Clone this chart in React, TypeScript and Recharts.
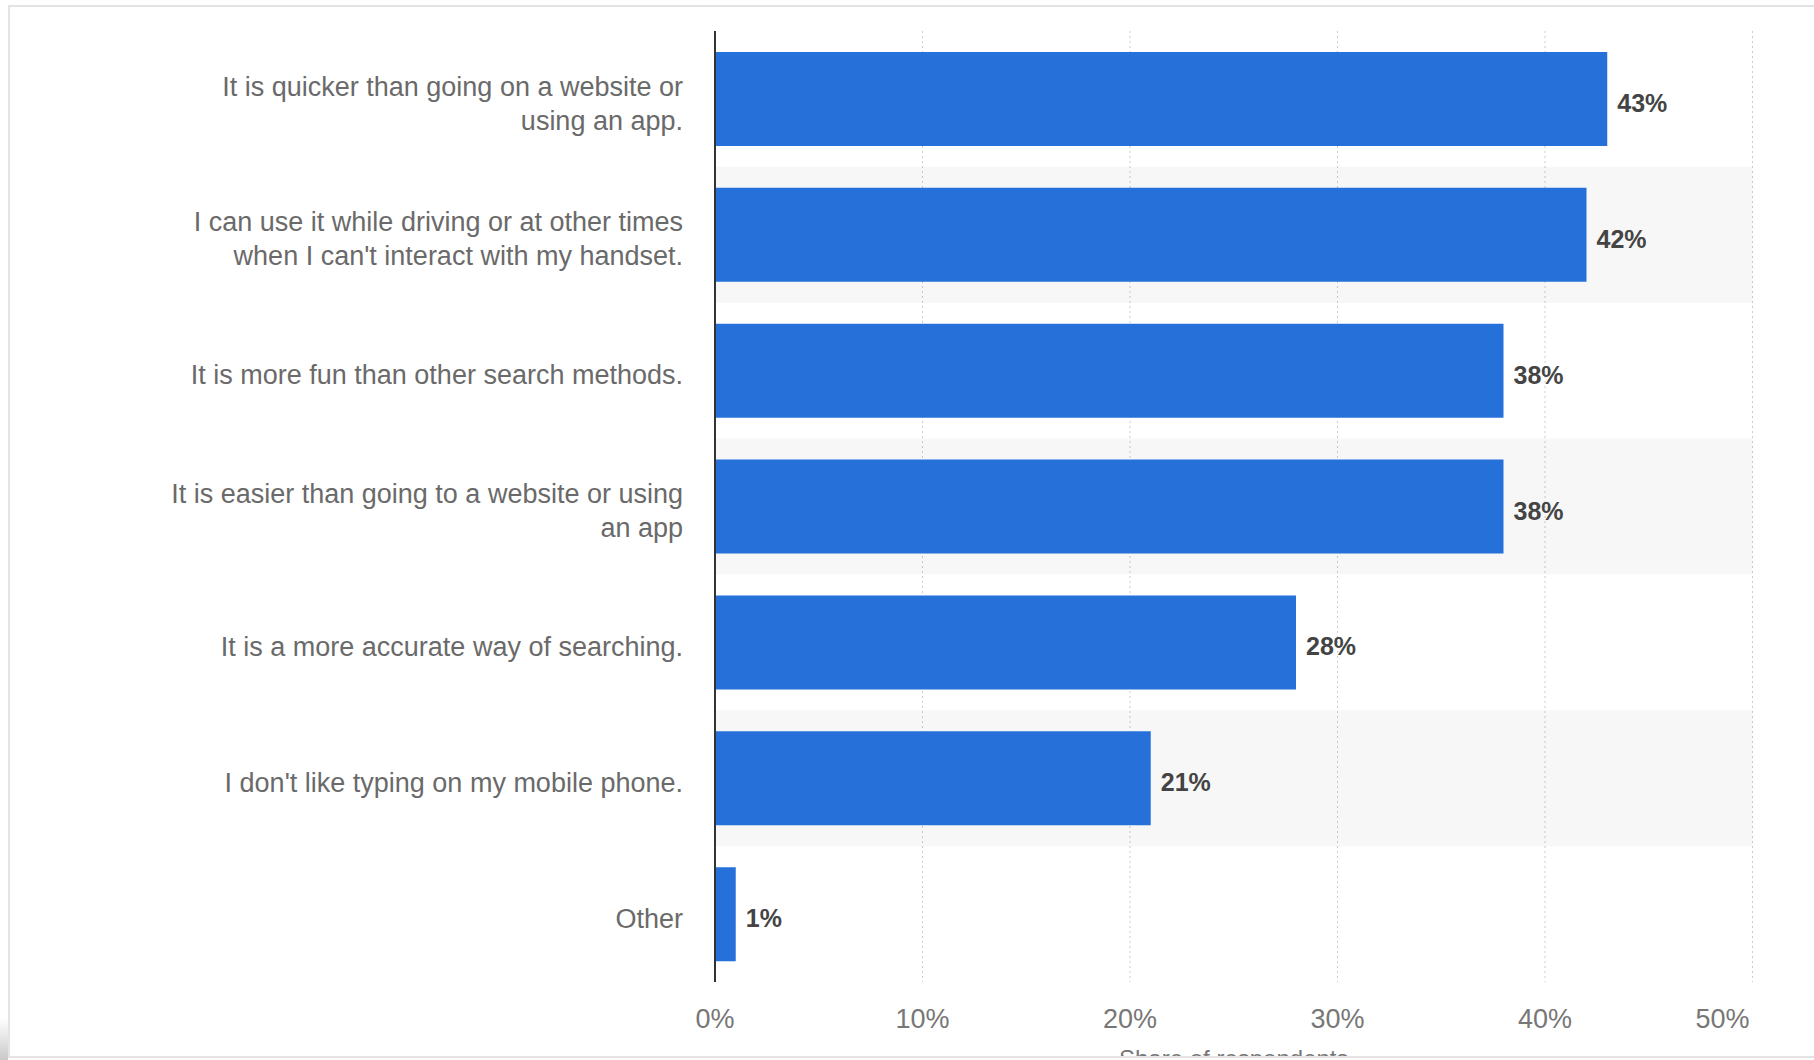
import React from 'react';
import { BarChart, Bar, XAxis, YAxis, CartesianGrid, Cell, LabelList } from 'recharts';

const categories = [
  "It is quicker than going on a website or\nusing an app.",
  "I can use it while driving or at other times\nwhen I can't interact with my handset.",
  "It is more fun than other search methods.",
  "It is easier than going to a website or using\nan app",
  "It is a more accurate way of searching.",
  "I don't like typing on my mobile phone.",
  "Other",
];
const shares = [43, 42, 38, 38, 28, 21, 1];
const xTicks = [0, 10, 20, 30, 40, 50];
const axisTitle = "Share of respondents";

const data = categories.map((category, i) => ({ category, share: shares[i] }));
const X_MAX = xTicks[xTicks.length - 1];

const FONT = '"Liberation Sans", Arial, Helvetica, sans-serif';

const CategoryTick = (props: any) => {
  const { x, y, payload } = props;
  const lines = String(payload.value).split('\n');
  const lh = 34;
  const first = 4 - ((lines.length - 1) * lh) / 2 + 9.7;
  return (
    <text x={x} y={y} textAnchor="end" fill="#6a6a6a" fontSize={27} fontFamily={FONT}>
      {lines.map((l, i) => (
        <tspan key={i} x={x} dy={i === 0 ? first : lh}>
          {l}
        </tspan>
      ))}
    </text>
  );
};

const PercentTick = (props: any) => {
  const { x, y, payload } = props;
  const last = payload.value === X_MAX;
  return (
    <text
      x={last ? Number(x) - 3 : x}
      y={Number(y) + 46}
      textAnchor={last ? 'end' : 'middle'}
      fill="#777"
      fontSize={27}
      fontFamily={FONT}
    >
      {`${payload.value}%`}
    </text>
  );
};

const ValueLabel = (props: any) => {
  const { x, y, width, height, value } = props;
  return (
    <text
      x={Number(x) + Number(width) + 10}
      y={Number(y) + Number(height) / 2 + 13}
      fill="#444"
      fontSize={25}
      fontWeight="bold"
      fontFamily={FONT}
    >
      {`${value}%`}
    </text>
  );
};

export default function App() {
  return (
    <>
      <div
        style={{
          position: 'fixed',
          left: 0,
          top: 1018,
          width: 8,
          height: 42,
          background: 'linear-gradient(to bottom, #ffffff, #c9c9c9)',
        }}
      />
      <div
        style={{
          position: 'fixed',
          top: 5,
          left: 8,
          width: 1804,
          height: 1049,
          borderTop: '2px solid #e3e3e3',
          borderLeft: '2px solid #e3e3e3',
          borderBottom: '2px solid #e3e3e3',
          overflow: 'hidden',
          background: '#fff',
          boxSizing: 'content-box',
        }}
      >
        <BarChart
          width={1804}
          height={1049}
          data={data}
          layout="vertical"
          barCategoryGap={0}
          margin={{ top: 24, right: 61.5, bottom: 24, left: 0 }}
          style={{ fontFamily: FONT }}
        >
          <CartesianGrid
            horizontal={false}
            yAxisId="main"
            stroke="#cccccc"
            strokeDasharray="2 3"
          />
          <XAxis
            type="number"
            domain={[0, X_MAX]}
            ticks={xTicks}
            axisLine={false}
            tickLine={false}
            tickSize={0}
            tickMargin={0}
            height={50}
            tick={PercentTick}
            interval={0}
            label={{
              value: axisTitle,
              position: 'bottom',
              offset: 18,
              fill: '#777',
              fontSize: 24,
              fontFamily: FONT,
            }}
          />
          <YAxis
            yAxisId="bg"
            type="category"
            dataKey="category"
            orientation="right"
            width={0}
            hide
          />
          <YAxis
            yAxisId="main"
            type="category"
            dataKey="category"
            width={705}
            axisLine={{ stroke: '#333', strokeWidth: 2 }}
            tickLine={false}
            tickSize={0}
            tickMargin={32}
            tick={CategoryTick}
            interval={0}
          />
          <Bar yAxisId="bg" dataKey={() => X_MAX} isAnimationActive={false}>
            {data.map((_, i) => (
              <Cell key={i} fill="#000" fillOpacity={i % 2 === 1 ? 0.03 : 0} />
            ))}
          </Bar>
          <Bar yAxisId="main" dataKey="share" fill="#2571d9" barSize={94} isAnimationActive={false}>
            <LabelList dataKey="share" content={ValueLabel} />
          </Bar>
        </BarChart>
      </div>
    </>
  );
}
